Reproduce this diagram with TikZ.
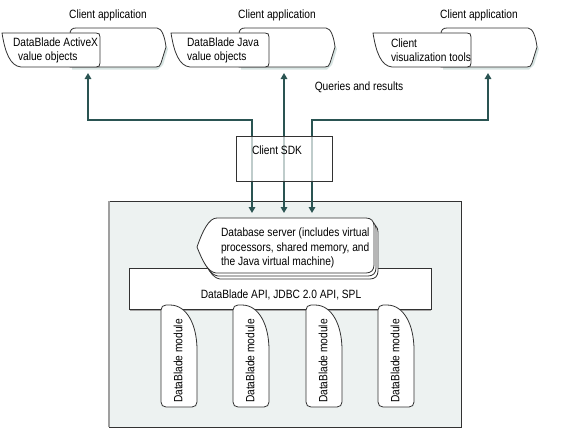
\documentclass[tikz,border=0pt]{standalone}
\usepackage{fontspec}
\setmainfont{Liberation Sans}[FakeStretch=0.85]
\usetikzlibrary{arrows.meta}
\definecolor{arrowc}{RGB}{42,84,82}
\definecolor{linec}{RGB}{50,50,50}
\definecolor{serverfill}{RGB}{237,242,241}
\definecolor{shadowc}{RGB}{215,228,226}
\begin{document}
\begin{tikzpicture}[x=1pt,y=-1pt,
  txt/.style={inner sep=0pt, outer sep=0pt, font=\fontsize{12}{14}\selectfont, text=black},
  shapeline/.style={draw=linec, line width=0.8pt, fill=white},
  boxstyle/.style={draw=linec, line width=0.9pt, fill=white, inner sep=0pt, outer sep=0pt},
  flow/.style={draw=arrowc, line width=2pt, {Triangle[length=6pt,width=6.5pt]}-{Triangle[length=6pt,width=6.5pt]}},
  appshape/.pic={
    \fill[shadowc] (70,36) -- (157,30) -- (166,49) -- (161,65) -- (156,69.5) -- (70,69.5) -- cycle;
    \draw[shapeline] (68,67) -- (68,34) .. controls (68,30) and (70,28) .. (74,28) -- (155,28) .. controls (160,28) and (163,38) .. (164,47) -- (159,63) .. controls (158,66) and (157,67) .. (154,67) -- cycle;
    \draw[shapeline] (0,33) -- (94,33) .. controls (97,33) and (98,34) .. (98,37) -- (98,63) .. controls (98,66) and (97,67) .. (94,67) -- (19,67) .. controls (8,66) and (3,52) .. (0,33) -- cycle;
  },
  dblayer/.pic={
    \draw[shapeline] (217,218) -- (366,218) .. controls (371,218) and (374,221) .. (374,226) -- (374,265) .. controls (374,270) and (371,273) .. (366,273) -- (216,273) .. controls (208,272) and (203,262) .. (197,247) .. controls (203,230) and (209,218) .. (217,218) -- cycle;
  },
  module/.pic={
    \draw[shapeline] (0,310) .. controls (0,307) and (2,305) .. (5,305) -- (9,305) .. controls (26,305) and (36,325) .. (36,350) -- (36,402) .. controls (36,405) and (34,407) .. (31,407) -- (5,407) .. controls (2,407) and (0,405) .. (0,402) -- cycle;
  }
]
\useasboundingbox (0,0) rectangle (569,437);

% client applications
\pic at (2,0) {appshape};
\pic at (171,0) {appshape};
\pic at (373,0) {appshape};
\node[txt] (lab1) at (108,15) {Client application};
\node[txt] (lab2) at (277,15) {Client application};
\node[txt] (lab3) at (479,15) {Client application};
\node[txt, align=left, anchor=west] (app1) at (13,50) {DataBlade ActiveX\\\hspace*{5pt}value objects};
\node[txt, align=left, anchor=west] (app2) at (187,50) {DataBlade Java\\value objects};
\node[txt, align=left, anchor=west] (app3) at (391,50) {Client\\visualization tools};

% server box
\node[boxstyle, fill=serverfill, minimum width=352pt, minimum height=226pt, anchor=north west] (server) at (109,201) {};
\draw[gray!75, line width=1.5pt] (server.north west) -- (server.south west);

% connectors
\coordinate (a1) at (88,73);
\coordinate (a2) at (284,73);
\coordinate (a3) at (488,73);
\coordinate (s1) at (252,213);
\coordinate (s2) at (284,213);
\coordinate (s3) at (312,213);
\coordinate (m) at (0,120);
\draw[flow] (a1) -- (a1 |- m) -| (s1);
\draw[flow] (a2) -- (s2);
\draw[flow] (a3) -- (a3 |- m) -| (s3);
\node[txt] (qr) at (359,87) {Queries and results};

% client SDK
\node[boxstyle, fill opacity=0.7, minimum width=96pt, minimum height=45pt] (sdk) at (284,158.5) {};
\node[txt] (sdktext) at (277,150) {Client SDK};

% API box
\node[boxstyle, minimum width=302pt, minimum height=41pt] (api) at (280,288.5) {};
\draw[gray!70, line width=1pt] ([xshift=1pt,yshift=-1pt]api.south west) -- ([yshift=-1pt]api.south east);

% database server stack
\pic at (4,6) {dblayer};
\pic at (2,3) {dblayer};
\pic at (0,0) {dblayer};
\node[txt, align=left, anchor=west, font=\fontsize{12}{14.5}\selectfont] (db) at (221,248) {Database server (includes virtual\\processors, shared memory, and\\the Java virtual machine)};
\node[txt] (apitext) at (281,295) {DataBlade API, JDBC 2.0 API, SPL};

% modules
\pic at (161,0) {module};
\pic at (233,0) {module};
\pic at (306,0) {module};
\pic at (378,0) {module};
\node[txt, rotate=90] (mod1) at (178,361) {DataBlade module};
\node[txt, rotate=90] (mod2) at (250,361) {DataBlade module};
\node[txt, rotate=90] (mod3) at (323,361) {DataBlade module};
\node[txt, rotate=90] (mod4) at (395,361) {DataBlade module};
\end{tikzpicture}
\end{document}
